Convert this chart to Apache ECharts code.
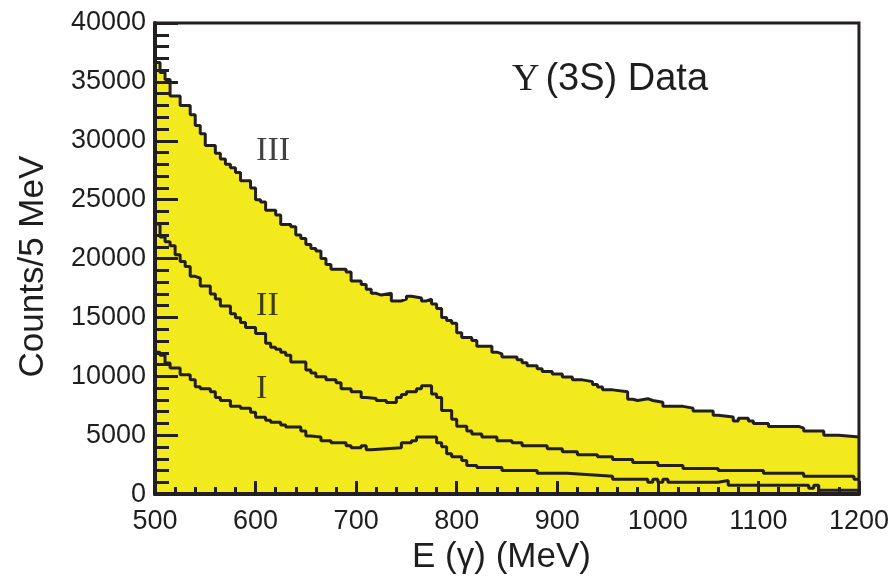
<!DOCTYPE html>
<html><head><meta charset="utf-8">
<script src="https://cdn.jsdelivr.net/npm/echarts/dist/echarts.min.js"></script>
<style>html,body{margin:0;padding:0;background:#fff;overflow:hidden}#c{width:892px;height:580px;display:block}</style>
</head><body><div id="c"></div>
<script>
// Region III (total) histogram: bin left edges (MeV) and counts per 5 MeV
const edgesIII = [500,505,510,515,525,535,540,545,550,560,565,570,575,580,585,595,600,605,610,620,625,635,640,645,650,655,660,665,670,675,690,695,705,710,715,720,725,735,745,750,755,765,770,775,780,785,790,795,800,805,815,820,835,840,845,860,865,870,880,885,895,905,915,925,935,940,945,955,970,975,980,990,995,1005,1025,1035,1055,1060,1075,1080,1090,1095,1110,1140,1145,1165,1180,1200];
const countsIII = [36650,35800,35200,33800,33000,32200,31300,30600,29600,28950,28450,28000,27700,27300,26600,26000,25000,24800,24100,23700,22900,22700,22000,21700,21200,20850,20650,20000,19500,19100,18850,18100,17800,17400,17050,16900,17050,16400,16550,16800,16650,16400,16550,16150,15750,15000,14750,14500,13700,13300,13050,12550,12050,11900,11650,11400,11150,10900,10650,10400,10200,9950,9700,9550,9300,9100,8850,8700,8050,7950,8100,7950,7800,7450,7300,7050,6700,6550,6200,6450,6200,6000,5750,5600,5350,5000,4850];

// Region II
const edgesII = [500,505,510,515,520,525,530,535,540,545,555,560,565,575,580,585,590,600,610,615,620,625,630,635,650,655,660,670,680,685,695,705,710,720,730,740,745,750,760,765,775,780,785,795,800,810,815,825,840,855,865,890,905,920,940,955,975,1000,1025,1060,1105,1145,1195,1200];
const countsII = [22930,21840,21420,21090,20330,19750,19330,18490,18330,17660,16990,16570,15980,15310,14980,14560,14140,13640,12800,12470,12300,12050,11800,11210,10540,10290,9960,9710,9460,8950,8700,8200,8120,7950,7780,8200,8450,8700,8950,9200,8500,8200,7100,6360,5770,5360,5100,4850,4520,4350,4100,3850,3600,3350,3180,2930,2680,2430,2180,2010,1760,1510,1255];

// Region I
const edgesI = [500,505,510,515,525,535,540,545,555,560,565,575,585,595,600,610,615,625,630,645,650,655,665,675,690,695,705,710,715,745,755,760,780,785,790,795,805,810,820,845,880,910,940,955,990,995,1000,1005,1010,1060,1070,1150,1155,1160,1200];
const countsI = [12050,11800,11130,10710,10125,9710,9120,8950,8700,8200,7950,7450,7280,6950,6530,6280,6110,5860,5690,5360,4940,4850,4520,4350,4100,3930,4100,3770,3930,4350,4520,4850,4350,4020,3430,3180,2850,2430,2260,2010,1760,1600,1510,1255,1000,1255,1000,1255,1000,1150,750,500,750,335];

// Region labels
const regionNames = ['III', 'II', 'I'];
const regionX = [600, 600, 600];
const regionY = [29100, 16000, 8900];

// Axes
const xMin = 500, xMax = 1200, xStep = 100;
const yMin = 0, yMax = 40000, yStep = 5000;

const INK = '#231f20';
const TXT = '#1e1e1e';
const YELLOW = '#f2ea1c';
const SANS = '"Liberation Sans", Arial, Helvetica, sans-serif';
const SERIF = '"Liberation Serif", "Times New Roman", serif';

function hist(edges, counts) {
  const d = counts.map((c, i) => [edges[i], c]);
  d.push([edges[edges.length - 1], counts[counts.length - 1]]);
  return d;
}

const chart = echarts.init(document.getElementById('c'), null, {renderer: 'canvas'});
const option = {
  animation: false,
  backgroundColor: '#ffffff',
  title: {
    text: '{u|Υ}{s|(3S) Data}',
    left: 512, top: 61, padding: 0,
    textStyle: {
      fontWeight: 'normal',
      rich: {
        u: {fontFamily: SERIF, fontSize: 38, fontWeight: 'normal', color: TXT, padding: [0, 6, 0, 0]},
        s: {fontFamily: SANS, fontSize: 38, fontWeight: 'normal', color: TXT}
      }
    }
  },
  grid: {left: 155, right: 26, top: 23, bottom: 79, show: true, z: 10,
         borderColor: INK, borderWidth: 3, backgroundColor: 'rgba(0,0,0,0)'},
  xAxis: {
    type: 'value', min: xMin, max: xMax, interval: xStep, z: 10,
    axisLine: {show: true, onZero: false, lineStyle: {color: INK, width: 4}},
    axisTick: {show: true, inside: true, length: 13, lineStyle: {color: INK, width: 3}},
    minorTick: {show: true, splitNumber: 5, length: 7, lineStyle: {color: INK, width: 3}},
    splitLine: {show: false},
    axisLabel: {color: TXT, fontSize: 27, fontFamily: SANS, margin: 14, formatter: v => String(v)},
    name: 'E (γ) (MeV)', nameLocation: 'middle', nameGap: 44,
    nameTextStyle: {color: TXT, fontSize: 35, fontFamily: SANS, padding: [0, 11, 0, 0]}
  },
  yAxis: {
    type: 'value', min: yMin, max: yMax, interval: yStep, z: 10,
    axisLine: {show: true, onZero: false, lineStyle: {color: INK, width: 4}},
    axisTick: {show: true, inside: true, length: 23, lineStyle: {color: INK, width: 3}},
    minorTick: {show: true, splitNumber: 5, length: 14, lineStyle: {color: INK, width: 3}},
    splitLine: {show: false},
    axisLabel: {color: TXT, fontSize: 27, fontFamily: SANS, margin: 9, formatter: v => String(v)},
    name: 'Counts/5 MeV', nameLocation: 'middle', nameGap: 104,
    nameTextStyle: {color: TXT, fontSize: 35, fontFamily: SANS, padding: [0, 16, 0, 0]}
  },
  series: [
    {type: 'line', step: 'end', data: hist(edgesIII, countsIII), symbol: 'none', z: 2,
     lineStyle: {color: INK, width: 3}, areaStyle: {color: YELLOW, opacity: 1}},
    {type: 'line', step: 'end', data: hist(edgesII, countsII), symbol: 'none', z: 3,
     lineStyle: {color: INK, width: 3}},
    {type: 'line', step: 'end', data: hist(edgesI, countsI), symbol: 'none', z: 3,
     lineStyle: {color: INK, width: 3}},
    {type: 'scatter', silent: true, z: 5, symbolSize: 1,
     itemStyle: {color: 'rgba(0,0,0,0)'},
     data: regionNames.map((n, i) => ({name: n, value: [regionX[i], regionY[i]]})),
     label: {show: true, position: 'right', distance: 0, formatter: p => p.name,
             fontFamily: SERIF, fontSize: 34, color: '#111111'}}
  ]
};
chart.setOption(option);
</script></body></html>
